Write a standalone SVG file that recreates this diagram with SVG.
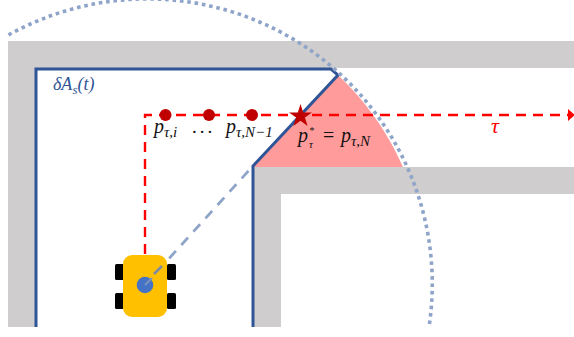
<svg xmlns="http://www.w3.org/2000/svg" width="574" height="337" viewBox="0 0 574 337">
<style>
.m{font-family:"Liberation Serif","DejaVu Serif",serif;font-style:italic;fill:#111}
.g{fill:#cfcdcd}
.wall{fill:none;stroke:#2f5597;stroke-width:3}
.red{fill:none;stroke:#f00;stroke-width:2.4;stroke-dasharray:10 7}
.dot{fill:#c00000}
.wheel{fill:#000}
</style>
<rect width="574" height="337" fill="#fff"/>
<g id="walls">
<path class="g" d="M8 41H574V68H36V327H8Z"/>
<path class="g" d="M253 167H574V194H281V327H253Z"/>
</g>
<path id="visible-region" d="M338 75L252 167H403A285 285 0 0 0 338 75Z" fill="#ff9b9b"/>
<g id="boundary">
<path class="wall" d="M36 327V69H331L338 75L253 166V327"/>
<text x="53" y="90" font-size="18" style="font-family:'Liberation Serif',serif;font-style:italic;fill:#2f5597">δA<tspan font-size="13" dy="4">s</tspan><tspan dy="-4">(t)</tspan></text>
</g>
<g id="connectors">
<path class="red" d="M145 254V115H568"/>
<path d="M568 109L575 115L568 121Z" fill="#f00"/>
<path d="M145 285L252 167" fill="none" stroke="#8ea4c8" stroke-width="2.8" stroke-dasharray="10 8"/>
<path d="M8.500 35A285 285 0 0 1 429 327" fill="none" stroke="#8ea4c8" stroke-width="3.600" stroke-dasharray="3.600 3.800"/>
</g>
<g id="robot">
<rect class="wheel" x="115" y="264" width="9" height="16" rx="1.500"/>
<rect class="wheel" x="115" y="293" width="9" height="16" rx="1.500"/>
<rect class="wheel" x="167" y="264" width="9" height="16" rx="1.500"/>
<rect class="wheel" x="167" y="293" width="9" height="16" rx="1.500"/>
<rect x="123" y="255" width="44" height="62" rx="9" fill="#ffc000"/>
<path d="M162 266L154 274" stroke="#7f8ba0" stroke-width="2.600"/>
<circle cx="145" cy="285" r="8.300" fill="#4472c4"/>
<path d="M145 285L152 278" stroke="#7f93bb" stroke-width="2"/>
</g>
<g id="points">
<circle class="dot" cx="165.500" cy="115" r="6"/>
<circle class="dot" cx="209" cy="115" r="6"/>
<circle class="dot" cx="252" cy="115" r="6"/>
<path class="dot" d="M300.500 104L303.200 112.400H312L304.900 117.600L307.600 126L300.500 120.800L293.400 126L296.100 117.600L289 112.400H297.800Z"/>
<text class="m" x="154" y="133" font-size="20">p<tspan font-size="15" dy="4">τ,i</tspan></text>
<text x="192" y="133" font-size="19" style="font-family:'Liberation Serif',serif;fill:#111" letter-spacing="3">...</text>
<text class="m" x="226" y="133" font-size="20">p<tspan font-size="15" dy="4">τ,N−1</tspan></text>
<text class="m" x="298" y="142" font-size="20">p</text>
<text class="m" x="309" y="134" font-size="10">*</text>
<text class="m" x="309" y="148" font-size="11">τ</text>
<text x="323" y="142" font-size="20" style="font-family:'Liberation Serif',serif;fill:#111">=</text>
<text class="m" x="341" y="142" font-size="20">p<tspan font-size="15" dy="4">τ,N</tspan></text>
<text x="491" y="133" font-size="22" style="font-family:'Liberation Serif',serif;font-style:italic;fill:#f00">τ</text>
</g>
</svg>
